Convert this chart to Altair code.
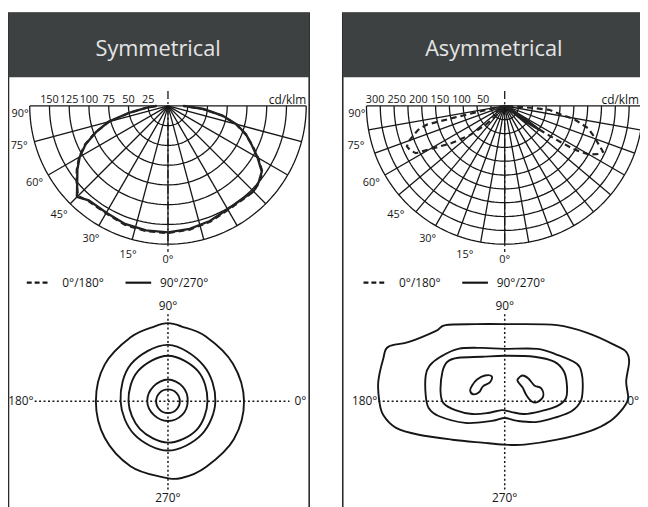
import altair as alt
import numpy as np
import pandas as pd

# ---------------- data ----------------
panel_titles = ["Symmetrical", "Asymmetrical"]
unit_label = "cd/klm"

# polar luminous-intensity grids (cd/klm)
sym_ring_values = [25, 50, 75, 100, 125, 150, 175]
sym_ring_labels = [150, 125, 100, 75, 50, 25]
asym_ring_values = [32, 64, 96, 128, 160, 192, 224, 256, 288, 320]
asym_ring_labels = [300, 250, 200, 150, 100, 50]
sym_spoke_angles = [-75, -60, -45, -30, -15, 0, 15, 30, 45, 60, 75]
asym_spoke_angles = [-80, -70, -60, -50, -40, -30, -20, -10, 0,
                     10, 20, 30, 40, 50, 60, 70, 80]
angle_labels = [90, 75, 60, 45, 30, 15, 0]

# symmetrical luminaire: gamma (negative = 180/270 side) and intensity
sym_gamma = [-90, -85, -80, -75, -70, -65, -60, -55, -50, -45, -40, -30, -20, -10, 0,
             10, 20, 30, 40, 45, 50, 55, 60, 65, 70, 75, 80, 85, 90]
sym_c90_270 = [15, 28, 50, 78, 97, 115, 129, 140, 150, 163, 156, 156, 159, 160, 160,
               158, 155, 151, 151, 153, 150, 145, 131, 117, 105, 90, 70, 45, 20]
sym_c0_180 = [14, 27, 49, 77, 98, 116, 130, 141, 151, 161, 157, 157, 160, 161, 161,
              159, 156, 152, 152, 153, 151, 146, 132, 118, 104, 89, 69, 44, 19]

# asymmetrical luminaire
asym_dash_gamma = [-90, -85, -80, -78, -77, -76.5, -75, -72.5, -70, -67.5,
                   -65, -62, -60, -55, -50, -45, -40, -35, 0, 50,
                   52, 54, 56, 57, 58, 60, 63, 65, 71, 75,
                   79, 81, 85, 86, 87, 90]
asym_c0_180 = [0, 3, 8, 40, 120, 185, 205, 220, 235, 245,
               242, 233, 200, 150, 105, 60, 20, 0, 0, 0,
               0, 60, 110, 150, 190, 225, 245, 251, 219, 200,
               165, 135, 103, 60, 10, 0]
asym_solid_gamma = [-90, -70, -60, -55, -50, -40, 0, 45, 50, 53, 55.5, 58, 62, 70, 80, 90]
asym_c90_270 = [0, 10, 20, 25, 15, 0, 0, 0, 10, 60, 97, 50, 20, 10, 5, 0]

legend_labels = ["0°/180°", "90°/270°"]
iso_axis_labels = ["0°", "90°", "180°", "270°"]

# isolux contours, symmetrical (polar: angle deg, radius m)
sym_iso_outer_deg = [0, 30, 60, 80, 90, 100, 120, 150, 180, 210, 240, 265, 280, 300, 330]
sym_iso_outer_r = [7.7, 7.6, 7.6, 7.7, 7.9, 7.7, 7.5, 7.4, 7.3, 7.4, 7.6, 7.7, 7.9, 7.7, 7.7]
sym_iso_deg = [0, 45, 90, 135, 180, 225, 270, 315]
sym_iso_r2 = [4.8, 5.1, 5.7, 5.3, 4.8, 4.8, 5.0, 4.8]
sym_iso_r3 = [4.0, 4.3, 4.6, 4.3, 4.0, 4.0, 4.2, 4.1]
sym_iso_r4 = [2.0, 2.1, 2.2, 2.1, 2.1, 2.0, 2.0, 2.0]
sym_iso_r5 = [1.2, 1.2, 1.2, 1.2, 1.2, 1.2, 1.2, 1.2]

# isolux contours, asymmetrical (x, y in m)
asym_iso1_x = [-12.8, -12.3, -11.8, -9.7, -7.0, -6.0, -3.0, 0.0, 5.3, 8.7, 11.3, 12.3, 12.6, 12.3,
               12.5, 12.0, 10.7, 8.7, 5.3, 2.0, 0.0, -2.3, -5.3, -8.7, -11.0, -12.3, -12.7]
asym_iso1_y = [2.0, 4.3, 5.5, 6.0, 7.1, 7.7, 7.8, 7.8, 7.7, 6.8, 5.6, 5.0, 4.0, 2.0,
               0.3, -0.7, -2.0, -3.0, -3.9, -4.4, -4.4, -4.2, -3.9, -3.4, -2.7, -1.4, 0.0]
asym_iso2_x = [-4.7, -2.3, 0.0, 3.3, 5.3, 7.3, 7.8, 7.9, 7.7, 6.8, 5.3, 3.3, 1.3, 0.0, -1.3,
               -4.0, -6.7, -7.7, -8.0, -8.0, -7.6, -6.5]
asym_iso2_y = [5.3, 5.4, 5.3, 5.3, 4.7, 3.8, 2.8, 1.3, 0.0, -1.0, -1.6, -2.1, -2.0, -1.7, -2.0,
               -2.2, -1.5, -0.7, 0.6, 2.6, 3.6, 4.5]
asym_iso3_x = [-6.3, -5.8, -4.7, -2.3, 0.0, 3.0, 5.0, 6.0, 6.3, 6.2, 5.3, 3.7, 2.0, 0.7,
               -0.3, -1.7, -3.3, -5.0, -6.2, -6.5]
asym_iso3_y = [3.0, 4.0, 4.4, 4.5, 4.6, 4.5, 4.0, 3.0, 1.6, 0.3, -0.5, -1.0, -1.3, -1.1,
               -0.9, -1.2, -1.3, -0.9, -0.2, 1.0]
asym_iso4a_x = [-3.5, -3.3, -2.8, -2.0, -1.3, -1.5, -2.2, -2.6, -3.2]
asym_iso4a_y = [1.1, 1.6, 2.2, 2.6, 2.5, 1.9, 1.5, 0.9, 0.7]
asym_iso4b_x = [1.3, 1.8, 2.4, 3.0, 3.7, 3.9, 3.3, 2.7, 2.2, 1.8, 1.4]
asym_iso4b_y = [2.2, 2.6, 2.3, 1.6, 1.3, 0.5, -0.1, 0.0, 0.6, 1.4, 1.9]

# ---------------- layout ----------------
INK = "#161616"
FONT = "Open Sans"
R = 140.0                       # outer ring radius (px)
ISO = 10.0                      # px per metre in isolux plots
panels = [
    dict(x0=8.5, x1=313, cx=170, cy=104, icx=170, icy=403, k=R / 175.0,
         rings=sym_ring_values, labels=sym_ring_labels, spokes=sym_spoke_angles,
         tx=160, unit_x=310, zero_x=298, hx=(-135, 123)),
    dict(x0=347, x1=660, cx=511, cy=104, icx=511, icy=403, k=R / 320.0,
         rings=asym_ring_values, labels=asym_ring_labels, spokes=asym_spoke_angles,
         tx=500, unit_x=647, zero_x=635, hx=(-128, 121)),
]


def pxy(cx, cy, g, r):
    g = np.radians(np.asarray(g, dtype=float))
    r = np.asarray(r, dtype=float)
    return cx + r * np.sin(g), cy + r * np.cos(g)


frames, headers, titles = [], [], []
ring_rows, rules, axis_rules = [], [], []
curve_solid, curve_dash = [], []
ring_txt, deg_txt, unit_txt = [], [], []
leg_solid, leg_dash, leg_txt = [], [], []
iso_rows, cross = [], []
iso_txt = {"left": [], "center": [], "right": []}

curves = [((sym_gamma, sym_c90_270), (sym_gamma, sym_c0_180)),
          ((asym_solid_gamma, asym_c90_270), (asym_dash_gamma, asym_c0_180))]

for p, (P, title) in enumerate(zip(panels, panel_titles)):
    cx, cy, k = P["cx"], P["cy"], P["k"]
    frames.append(dict(x=P["x0"], x2=P["x1"], y=10, y2=520))
    headers.append(dict(x=P["x0"], x2=P["x1"], y=10, y2=75))
    titles.append(dict(x=P["tx"], y=46, t=title))
    # rings
    ga = np.linspace(-90, 90, 91)
    for v in P["rings"]:
        xs, ys = pxy(cx, cy, ga, v * k)
        for i, (a, b) in enumerate(zip(xs, ys)):
            ring_rows.append(dict(x=a, y=b, g=f"{p}-{v}", i=i))
    # spokes and top line
    for a in P["spokes"]:
        x2, y2 = pxy(cx, cy, a, R)
        rules.append(dict(x=cx, y=cy, x2=float(x2), y2=float(y2)))
    rules.append(dict(x=cx - R, y=cy, x2=min(cx + R, P["x1"]), y2=cy))
    axis_rules.append(dict(x=cx, y=89, x2=cx, y2=252))
    # curves
    (gs, vs), (gd, vd) = curves[p]
    xs, ys = pxy(cx, cy, gs, np.asarray(vs) * k)
    curve_solid += [dict(x=a, y=b, g=p, i=i) for i, (a, b) in enumerate(zip(xs, ys))]
    xs, ys = pxy(cx, cy, gd, np.asarray(vd) * k)
    curve_dash += [dict(x=a, y=b, g=p, i=i) for i, (a, b) in enumerate(zip(xs, ys))]
    # labels
    for v in P["labels"]:
        ring_txt.append(dict(x=cx - v * k, y=cy - 6, t=str(v)))
    unit_txt.append(dict(x=P["unit_x"], y=cy - 6, t=unit_label))
    for a in angle_labels:
        ang = a if a < 90 else 87
        rr = 156 if a < 90 else 150
        lx, ly = pxy(cx, cy, -ang, rr)
        deg_txt.append(dict(x=float(lx), y=float(ly), t=f"{a}°"))
    # legend
    leg_dash.append(dict(x=cx - 143, x2=cx - 122, y=283, y2=283))
    leg_solid.append(dict(x=cx - 43, x2=cx - 17, y=283, y2=283))
    leg_txt.append(dict(x=cx - 107, y=283, t=legend_labels[0]))
    leg_txt.append(dict(x=cx - 8, y=283, t=legend_labels[1]))
    # isolux crosshair
    icx, icy = P["icx"], P["icy"]
    cross.append(dict(x=icx + P["hx"][0], x2=icx + P["hx"][1], y=icy, y2=icy))
    cross.append(dict(x=icx, x2=icx, y=icy - 88, y2=icy + 90))
    iso_txt["left"].append(dict(x=P["zero_x"], y=icy, t=iso_axis_labels[0]))
    iso_txt["center"].append(dict(x=icx, y=icy - 96, t=iso_axis_labels[1]))
    iso_txt["right"].append(dict(x=icx + P["hx"][0] - 1, y=icy, t=iso_axis_labels[2]))
    iso_txt["center"].append(dict(x=icx, y=icy + 98, t=iso_axis_labels[3]))

# isolux contours
P0 = panels[0]
sym_sets = [(sym_iso_outer_deg, sym_iso_outer_r), (sym_iso_deg, sym_iso_r2),
            (sym_iso_deg, sym_iso_r3), (sym_iso_deg, sym_iso_r4), (sym_iso_deg, sym_iso_r5)]
for j, (dg, rr) in enumerate(sym_sets):
    th = np.radians(dg)
    for i, (t, r) in enumerate(zip(th, rr)):
        iso_rows.append(dict(x=float(P0["icx"] + r * ISO * np.cos(t)),
                             y=float(P0["icy"] - r * ISO * np.sin(t)), g=f"s{j}", i=i))
P1 = panels[1]
asym_sets = [(asym_iso1_x, asym_iso1_y), (asym_iso2_x, asym_iso2_y), (asym_iso3_x, asym_iso3_y),
             (asym_iso4a_x, asym_iso4a_y), (asym_iso4b_x, asym_iso4b_y)]
for j, (xx, yy) in enumerate(asym_sets):
    for i, (a, b) in enumerate(zip(xx, yy)):
        iso_rows.append(dict(x=P1["icx"] + a * ISO, y=P1["icy"] - b * ISO, g=f"a{j}", i=i))


def clean(rows):
    return [{kk: (float(vv) if isinstance(vv, (np.floating, np.integer)) else vv)
             for kk, vv in r.items()} for r in rows]


# ---------------- chart ----------------
XS = alt.Scale(domain=[8, 648], nice=False, zero=False)
YS = alt.Scale(domain=[8, 508], nice=False, zero=False, reverse=True)


def X(f="x"):
    return alt.X(f"{f}:Q", scale=XS, axis=None)


def Y(f="y"):
    return alt.Y(f"{f}:Q", scale=YS, axis=None)


def df(rows):
    return alt.Data(values=clean(rows))


def rule_layer(rows, **kw):
    return alt.Chart(df(rows)).mark_rule(**kw).encode(
        x=X(), y=Y(), x2=alt.X2("x2:Q"), y2=alt.Y2("y2:Q"))


def line_layer(rows, **kw):
    return alt.Chart(df(rows)).mark_line(**kw).encode(
        x=X(), y=Y(), detail="g:N", order="i:Q")


def text_layer(rows, **kw):
    return alt.Chart(df(rows)).mark_text(font=FONT, color=INK, baseline="middle", **kw).encode(
        x=X(), y=Y(), text="t:N")


layers = [
    alt.Chart(df(frames)).mark_rect(fill="white", stroke="#2a2a2a", strokeWidth=1.6).encode(
        x=X(), x2=alt.X2("x2:Q"), y=Y(), y2=alt.Y2("y2:Q")),
    alt.Chart(df(headers)).mark_rect(color="#3d4142").encode(
        x=X(), x2=alt.X2("x2:Q"), y=Y(), y2=alt.Y2("y2:Q")),
    alt.Chart(df(titles)).mark_text(font=FONT, fontSize=22, color="#e4e4e4", baseline="middle").encode(
        x=X(), y=Y(), text="t:N"),
    line_layer(ring_rows, color=INK, strokeWidth=1.3),
    rule_layer(rules, color=INK, strokeWidth=1.3),
    rule_layer(axis_rules, color=INK, strokeWidth=1.3, strokeDash=[8, 3, 2, 3]),
    line_layer(curve_solid, color="#222222", strokeWidth=2.4),
    line_layer(curve_dash, color="#222222", strokeWidth=2.2, strokeDash=[6, 4]),
    text_layer(ring_txt, fontSize=11, align="center"),
    text_layer(unit_txt, fontSize=12, align="right"),
    text_layer(deg_txt, fontSize=11, align="center"),
    rule_layer(leg_dash, color=INK, strokeWidth=2.2, strokeDash=[5, 3]),
    rule_layer(leg_solid, color=INK, strokeWidth=2.2),
    text_layer(leg_txt, fontSize=12, align="left"),
    rule_layer(cross, color=INK, strokeWidth=1.5, strokeDash=[2, 2.5]),
    text_layer(iso_txt["left"], fontSize=12, align="left"),
    text_layer(iso_txt["center"], fontSize=12, align="center"),
    text_layer(iso_txt["right"], fontSize=12, align="right"),
    line_layer(iso_rows, color=INK, strokeWidth=1.9, interpolate="cardinal-closed"),
]

chart = alt.layer(*layers).properties(
    width=640, height=500, padding=0, autosize=alt.AutoSizeParams(type="none"),
    background="white",
).configure_view(stroke=None)

chart.save("out.html", embed_options={"renderer": "svg", "actions": False})
